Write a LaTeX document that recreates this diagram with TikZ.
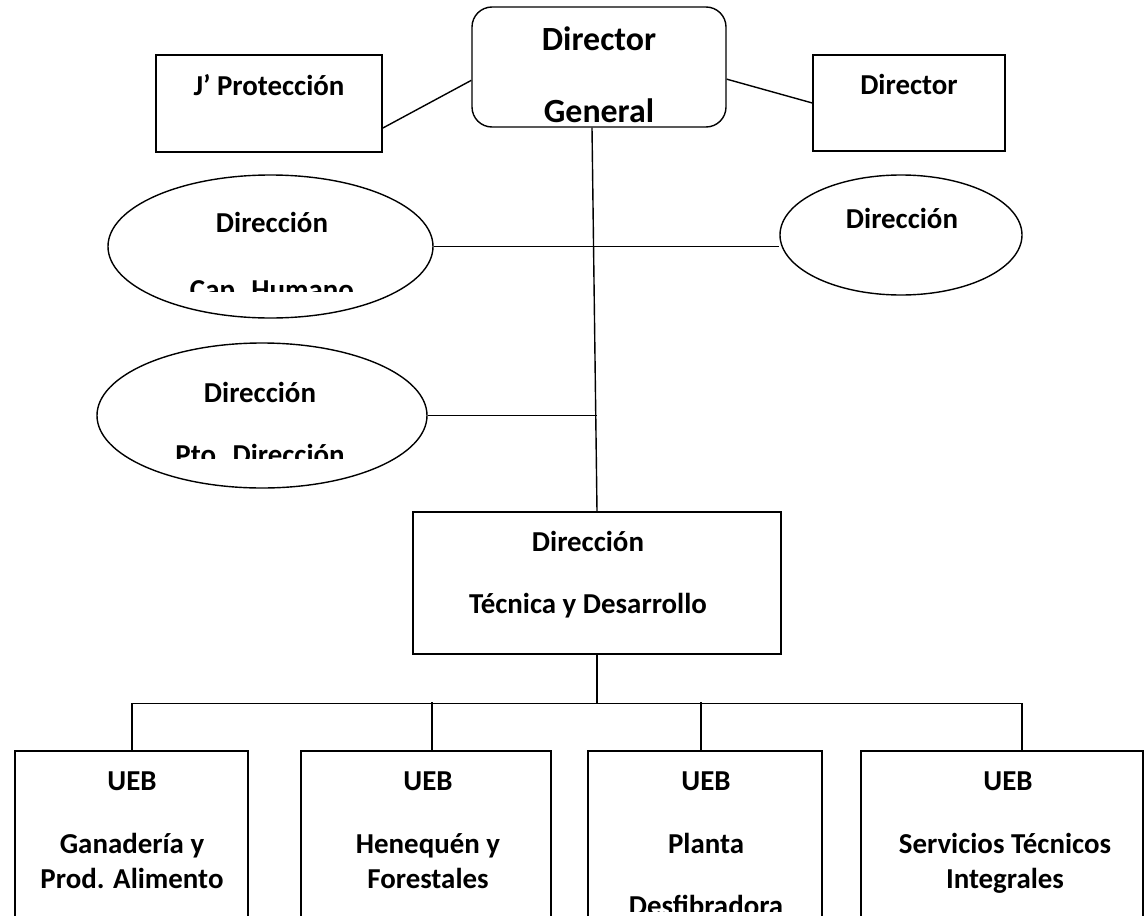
\documentclass[tikz,border=0pt]{standalone}
\usepackage{fontspec}
\setmainfont{Carlito}
\usetikzlibrary{shapes,calc}

\begin{document}
\begin{tikzpicture}[
    x=1bp, y=-1bp,
    line width=1.4bp,
    box/.style={rectangle, draw, inner sep=0pt},
    oval/.style={ellipse, draw, inner sep=0pt},
    txt/.style={inner sep=0pt, anchor=base, font=\fontsize{29}{35}\selectfont\bfseries},
    big/.style={txt, font=\fontsize{34}{40}\selectfont\bfseries}
]
    \useasboundingbox (0,0) rectangle (1145,916);

    % direccion general y asesores
    \node[box, rounded corners=20bp, minimum width=254bp, minimum height=120bp] (dg) at (599,67) {};
    \node[box, minimum width=226bp, minimum height=97bp] (jprot) at (269,103.5) {};
    \node[box, minimum width=192bp, minimum height=96bp] (dir) at (909,103) {};
    \node[big] (dgA) at (599,50) {Director};
    \node[big] (dgB) at (599,122) {General};
    \node[txt] (jprotT) at (269,95) {J’ Protección};
    \node[txt] (dirT) at (909,94) {Director};

    % direcciones funcionales
    \node[oval, minimum width=325bp, minimum height=143bp] (hum) at (270.5,246.5) {};
    \node[oval, minimum width=242bp, minimum height=120bp] (dext) at (901,235) {};
    \node[oval, minimum width=330bp, minimum height=145bp] (pto) at (262,415.5) {};
    \node[txt] (humA) at (272,232) {Dirección};
    \node[txt] (dextA) at (902,228) {Dirección};
    \node[txt] (ptoA) at (260,402) {Dirección};
    \begin{scope}
        \clip (0,0) rectangle (1145,291);
        \node[txt] (humB) at (272,299) {Cap. Humano};
    \end{scope}
    \begin{scope}
        \clip (0,300) rectangle (1145,458);
        \node[txt] (ptoB) at (260,464) {Pto. Dirección};
    \end{scope}

    % direccion tecnica
    \node[box, minimum width=368bp, minimum height=142bp] (dt) at (597,583) {};
    \node[txt] (dtA) at (588,551) {Dirección};
    \node[txt] (dtB) at (588,613) {Técnica y Desarrollo};

    % UEB
    \node[box, minimum width=233bp, minimum height=209bp] (ueb1) at (131.5,855.5) {};
    \node[box, minimum width=250bp, minimum height=209bp] (ueb2) at (426,855.5) {};
    \node[box, minimum width=234bp, minimum height=209bp] (ueb3) at (705,855.5) {};
    \node[box, minimum width=282bp, minimum height=209bp] (ueb4) at (1002,855.5) {};

    \node[txt] (ueb1A) at (132,790) {UEB};
    \node[txt] (ueb1B) at (132,853) {Ganadería y};
    \node[txt] (ueb1C) at (132,888) {Prod. Alimento};
    \node[txt] (ueb2A) at (428,790) {UEB};
    \node[txt] (ueb2B) at (428,853) {Henequén y};
    \node[txt] (ueb2C) at (428,888) {Forestales};
    \node[txt] (ueb3A) at (706,790) {UEB};
    \node[txt] (ueb3B) at (706,853) {Planta};
    \begin{scope}
        \clip (580,860) rectangle (830,911);
        \node[txt] (ueb3C) at (706,915) {Desfibradora};
    \end{scope}
    \node[txt] (ueb4A) at (1008,790) {UEB};
    \node[txt] (ueb4B) at (1005,853) {Servicios Técnicos};
    \node[txt] (ueb4C) at (1005,888) {Integrales};

    % lineas
    \draw ($(jprot.south east)!0.25!(jprot.north east)$) -- ($(dg.south west)!0.39!(dg.north west)$);
    \draw ($(dg.south east)!0.4!(dg.north east)$) -- (dir.west);
    \draw ([xshift=-7bp]dg.south) -- (dt.north);
    \draw (hum.east) -- (hum.east -| dext.west);
    \draw (pto.east) -- (pto.east -| dt.north);

    \draw (dt.south) -- ++(0,49) coordinate (bus);
    \draw ([xshift=0.5bp]ueb1.north) |- (bus) -| ([xshift=20bp]ueb4.north);
    \draw ([xshift=6bp]ueb2.north) -- ++(0,-48);
    \draw ([xshift=-4bp]ueb3.north) -- ++(0,-48);
\end{tikzpicture}
\end{document}
